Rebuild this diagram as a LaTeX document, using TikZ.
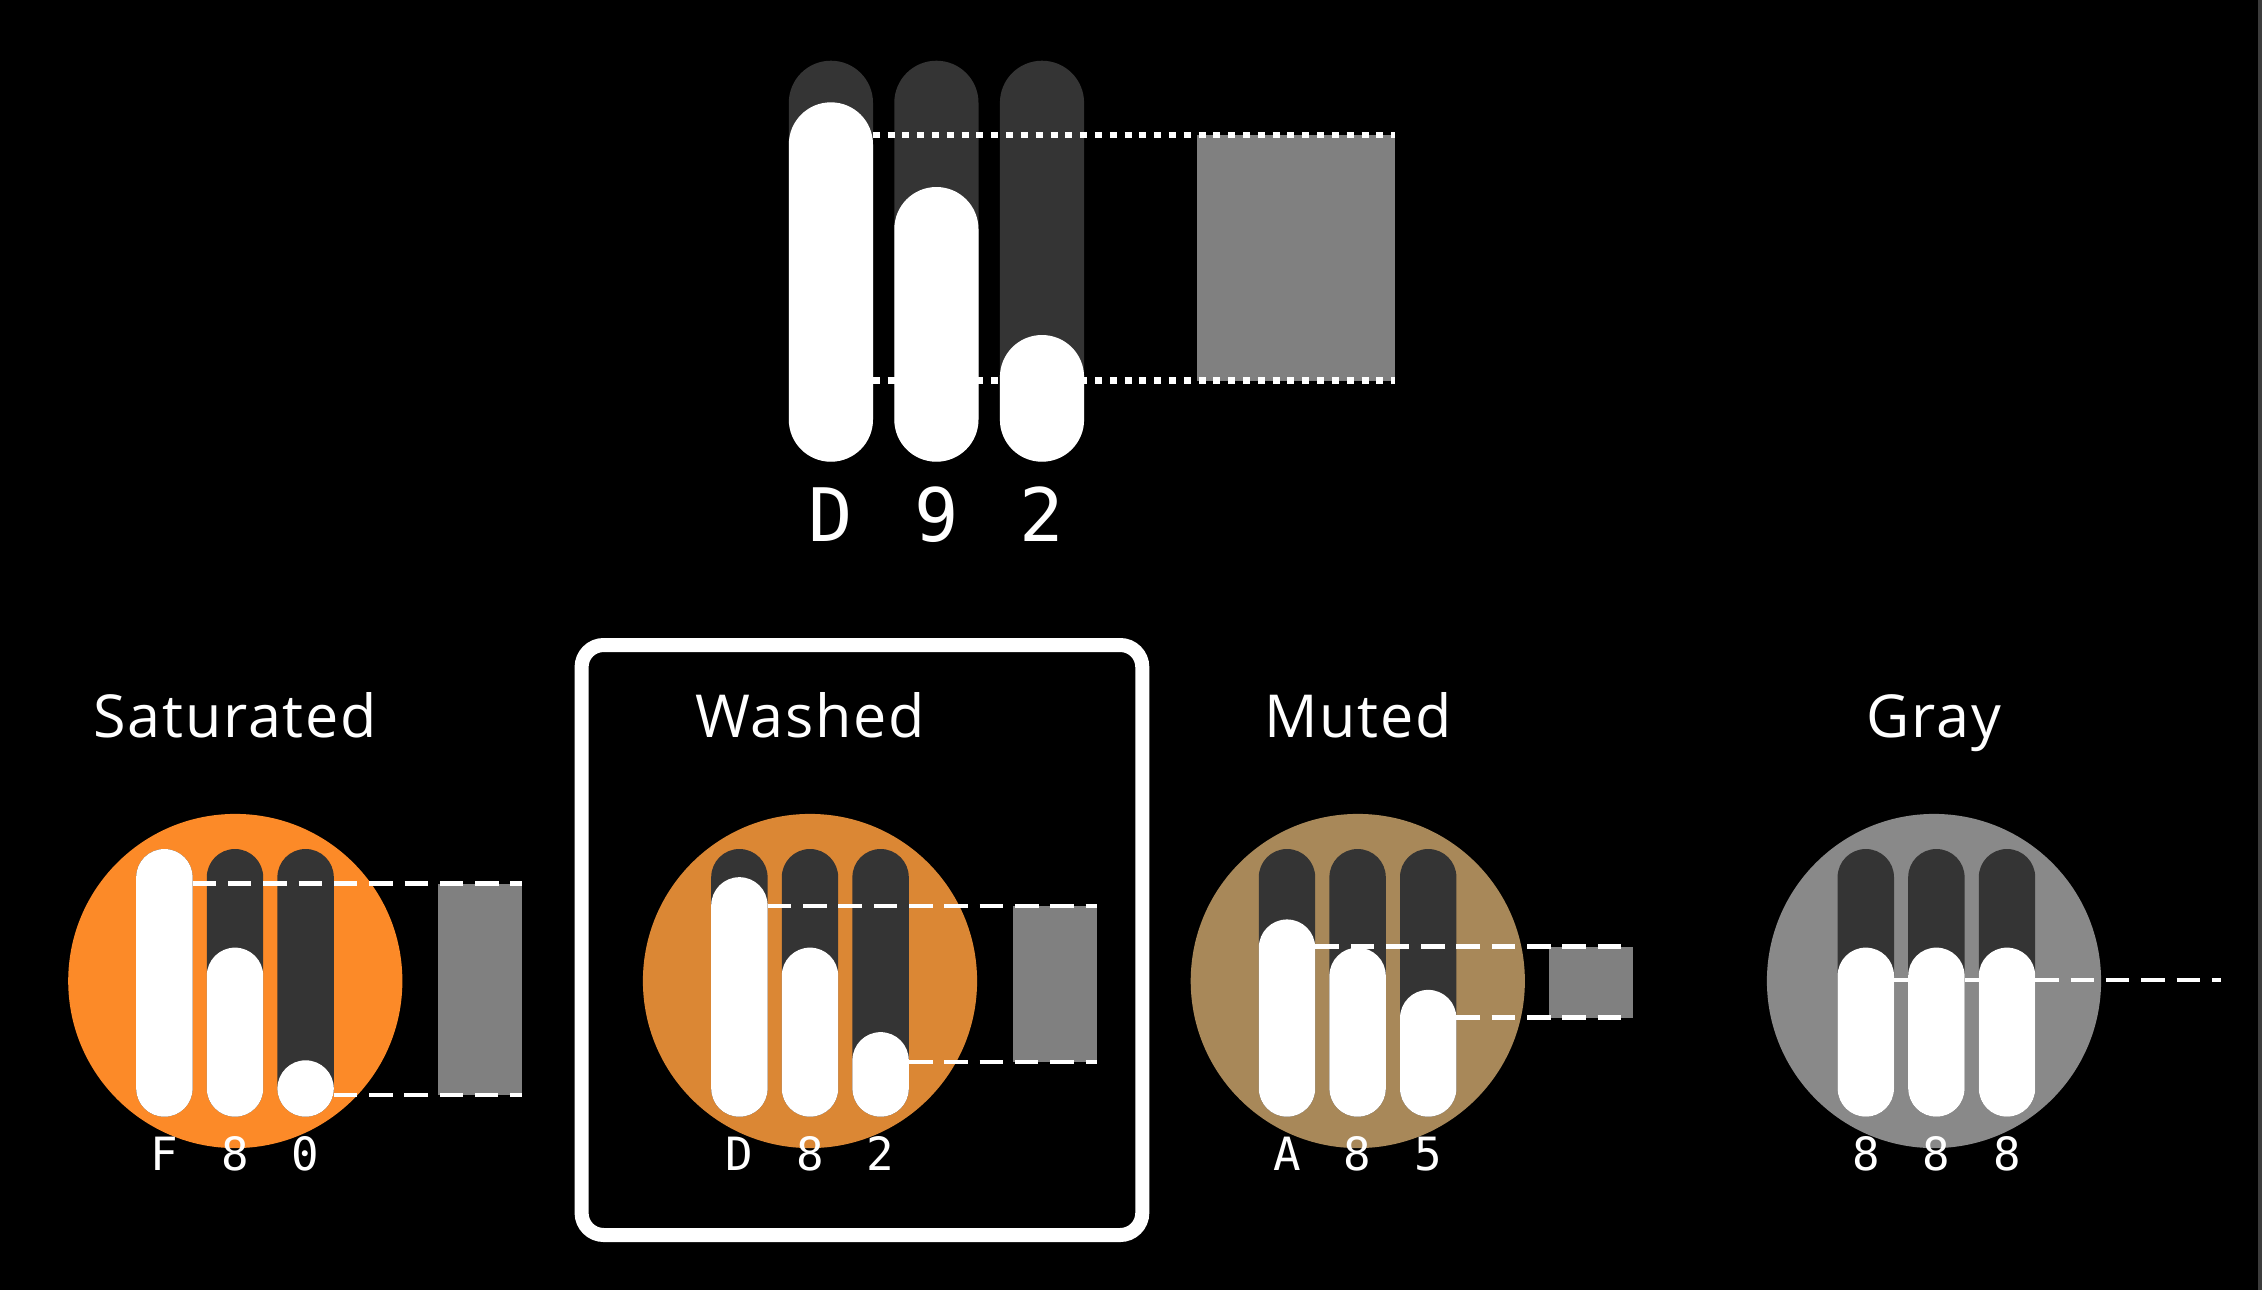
\documentclass[tikz,border=0pt]{standalone}
\usepackage{fontspec}
\setmainfont{Open Sans}[LetterSpace=3]
\newfontfamily\monof{DejaVu Sans Mono}
\definecolor{trackc}{HTML}{343434}
\definecolor{boxc}{HTML}{808080}
\definecolor{satc}{HTML}{FC8A28}
\definecolor{washc}{HTML}{DB8734}
\definecolor{mutec}{HTML}{A88859}
\definecolor{grayc}{HTML}{898989}
\definecolor{stripc}{HTML}{3C3C3C}
\newcommand\gaugeset[6]{% #1 circle cx, #2 bar cx, #3 colour, #4 #5 #6 values
  \fill[#3] (#1,981) circle[radius=1.67cm];
  \foreach \i/\v in {-1/#4, 0/#5, 1/#6} {
    \fill[trackc, smallpill] ({#2+\i*70.6-28.2},849) rectangle ({#2+\i*70.6+28.2},1116.7);
    \fill[white, smallpill] ({#2+\i*70.6-28.2},{1116.7-56.4-\v*14.087}) rectangle ({#2+\i*70.6+28.2},1116.7);
  }
}
\begin{document}
\begin{tikzpicture}[x=0.01cm,y=-0.01cm,
  smallpill/.style={rounded corners=0.2815cm},
  bigpill/.style={rounded corners=0.4205cm},
  dotline/.style={draw=white, line width=0.067cm, dash pattern=on 0.07cm off 0.078cm},
  dashline/.style={draw=white, line width=0.048cm, dash pattern=on 0.235cm off 0.118cm},
  swatch/.style={fill=boxc},
  biglab/.style={inner sep=0, anchor=base, text=white, font=\monof\fontsize{20.97pt}{24pt}\selectfont},
  smalllab/.style={inner sep=0, anchor=base, text=white, font=\monof\fontsize{13.03pt}{16pt}\selectfont},
  title/.style={inner sep=0, anchor=base, text=white, font=\fontsize{16.85pt}{20pt}\selectfont},
  frame/.style={draw=white, line width=0.14cm, rounded corners=0.22cm}]
\useasboundingbox (0,0) rectangle (2262,1290);
\fill[black] (0,0) rectangle (2262,1290);
\fill[stripc] (2258,0) rectangle (2262,1290);

% ---- top gauge D92 ----
\foreach \cx/\t in {830.9/102.3, 936.4/187, 1042/335} {
  \fill[trackc, bigpill] ({\cx-42.1},60.7) rectangle ({\cx+42.1},461.7);
  \fill[white, bigpill] ({\cx-42.1},\t) rectangle ({\cx+42.1},461.7);
}
\fill[swatch] (1196.9,135) rectangle (1394.7,380.7);
\coordinate (topU) at (872.8,135);
\coordinate (topUe) at (1394.7,135);
\coordinate (topL) at (872.8,380.7);
\coordinate (topLe) at (1394.7,380.7);
\draw[dotline] (topU) -- (topUe);
\draw[dotline] (topL) -- (topLe);
\node[biglab] (tD) at (830.9,541.7) {D};
\node[biglab] (t9) at (936.4,541.7) {9};
\node[biglab] (t2) at (1042,541.7) {2};

% ---- Saturated F80 ----
\gaugeset{235.3}{235}{satc}{15}{8}{0}
\fill[swatch] (438.3,883.5) rectangle (521.7,1095);
\coordinate (satU) at (192.6,883.5);
\coordinate (satUe) at (521.7,883.5);
\coordinate (satL) at (333.7,1095);
\coordinate (satLe) at (521.7,1095);
\draw[dashline] (satU) -- (satUe);
\draw[dashline] (satL) -- (satLe);
\node[title] (satT) at (235.3,737.3) {Saturated};
\node[smalllab] (sat1) at (164.4,1170.7) {F};
\node[smalllab] (sat2) at (235,1170.7) {8};
\node[smalllab] (sat3) at (305.6,1170.7) {0};

% ---- Washed D82 ----
\gaugeset{810}{810}{washc}{13}{8}{2}
\fill[swatch] (1012.7,906) rectangle (1097,1062);
\coordinate (wasU) at (767.8,906);
\coordinate (wasUe) at (1097,906);
\coordinate (wasL) at (909,1062);
\coordinate (wasLe) at (1097,1062);
\draw[dashline] (wasU) -- (wasUe);
\draw[dashline] (wasL) -- (wasLe);
\node[title] (wasT) at (810,737.3) {Washed};
\node[smalllab] (was1) at (739.4,1170.7) {D};
\node[smalllab] (was2) at (810,1170.7) {8};
\node[smalllab] (was3) at (880.6,1170.7) {2};
\draw[frame] (581.6,645) rectangle (1142.3,1235);

% ---- Muted A85 ----
\gaugeset{1357.8}{1357.6}{mutec}{10}{8}{5}
\fill[swatch] (1549,946.7) rectangle (1632.7,1017.7);
\coordinate (mutU) at (1315.2,946.7);
\coordinate (mutUe) at (1632.7,946.7);
\coordinate (mutL) at (1456.4,1017.7);
\coordinate (mutLe) at (1632.7,1017.7);
\draw[dashline] (mutU) -- (mutUe);
\draw[dashline] (mutL) -- (mutLe);
\node[title] (mutT) at (1357.8,737.3) {Muted};
\node[smalllab] (mut1) at (1287,1170.7) {A};
\node[smalllab] (mut2) at (1357.6,1170.7) {8};
\node[smalllab] (mut3) at (1428.2,1170.7) {5};

% ---- Gray 888 ----
\gaugeset{1934}{1936.4}{grayc}{8}{8}{8}
\coordinate (gryU) at (1894,980);
\coordinate (gryUe) at (2220.7,980);
\draw[dashline] (gryU) -- (gryUe);
\node[title] (gryT) at (1934,737.3) {Gray};
\node[smalllab] (gry1) at (1865.8,1170.7) {8};
\node[smalllab] (gry2) at (1936.4,1170.7) {8};
\node[smalllab] (gry3) at (2007,1170.7) {8};
\end{tikzpicture}
\end{document}
